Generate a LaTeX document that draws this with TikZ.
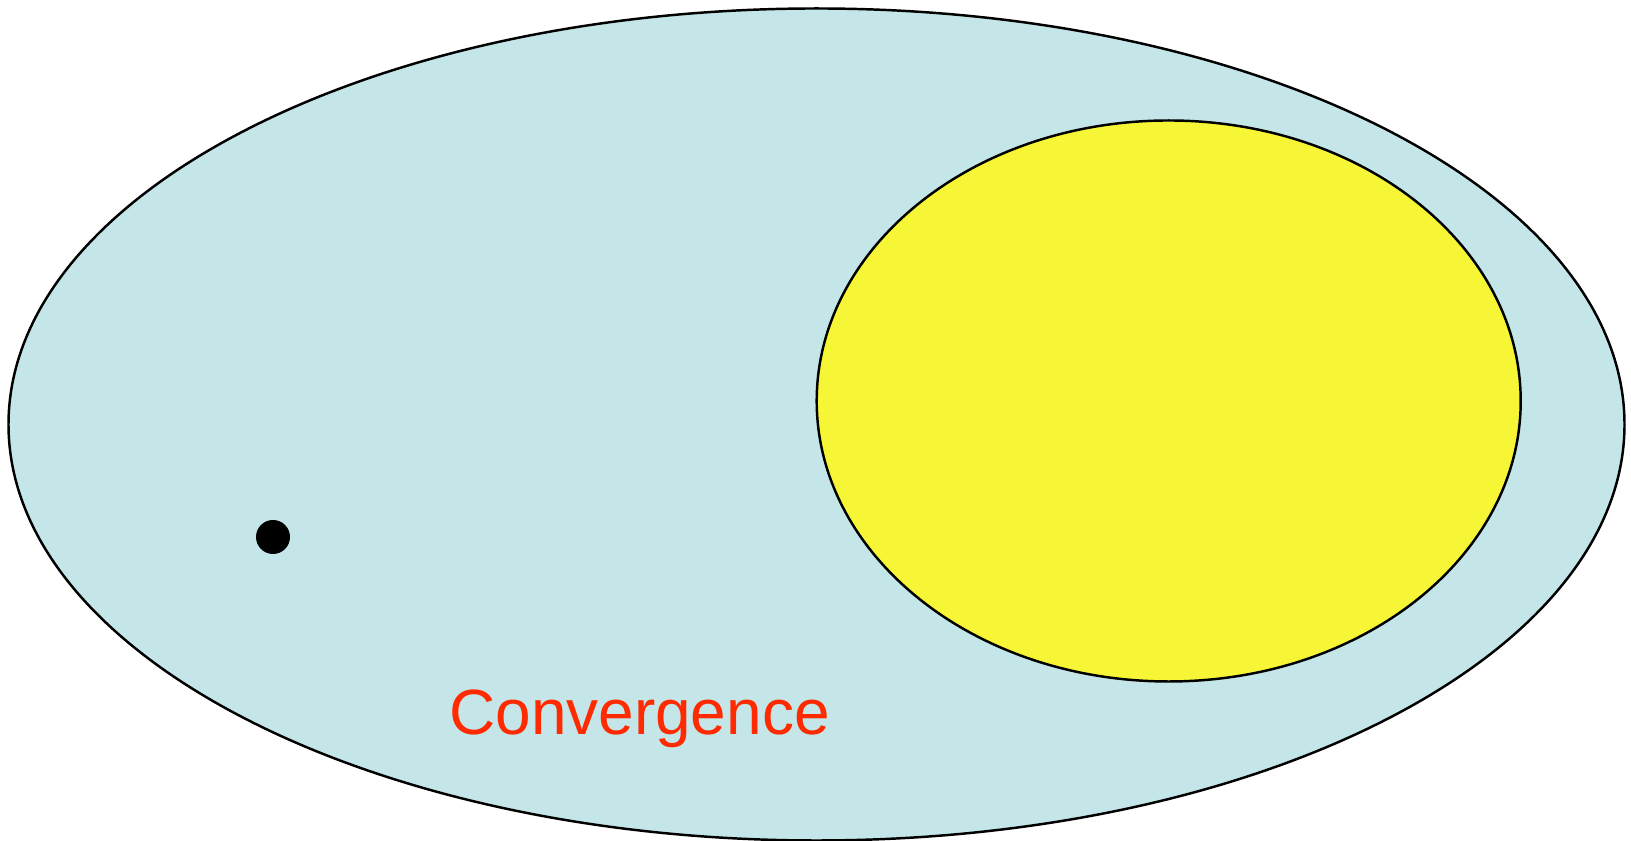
\documentclass[tikz,border=0pt]{standalone}
\usepackage{fontspec}
\setmainfont{Liberation Sans}
\usepackage{tikz}
\usetikzlibrary{shapes.geometric, positioning}
\definecolor{setblue}{HTML}{C4E6E8}
\definecolor{setyellow}{HTML}{F6F636}
\definecolor{labelred}{HTML}{FF2A00}

\begin{document}
\begin{tikzpicture}[
    outerset/.style={ellipse, draw=black, line width=0.7pt, fill=setblue, inner sep=0pt, minimum width=16.16cm, minimum height=8.32cm},
    innerset/.style={ellipse, draw=black, line width=0.7pt, fill=setyellow, inner sep=0pt, minimum width=7.04cm, minimum height=5.61cm},
    point/.style={circle, fill=black, inner sep=0pt, minimum size=0.34cm},
    setlabel/.style={text=labelred, font=\fontsize{18.2}{22}\selectfont, inner sep=0pt}
]
\useasboundingbox (0,0) rectangle (16.31,8.41);

% Sets
\node[outerset] (space) at (8.165,4.165) {};
\node[innerset] (target) at (11.687,4.40) {};

% Point and label
\node[point] (start) at (2.73,3.04) {};
\node[setlabel, anchor=base] (conv) at (6.395,1.06) {Convergence};

\end{tikzpicture}
\end{document}
